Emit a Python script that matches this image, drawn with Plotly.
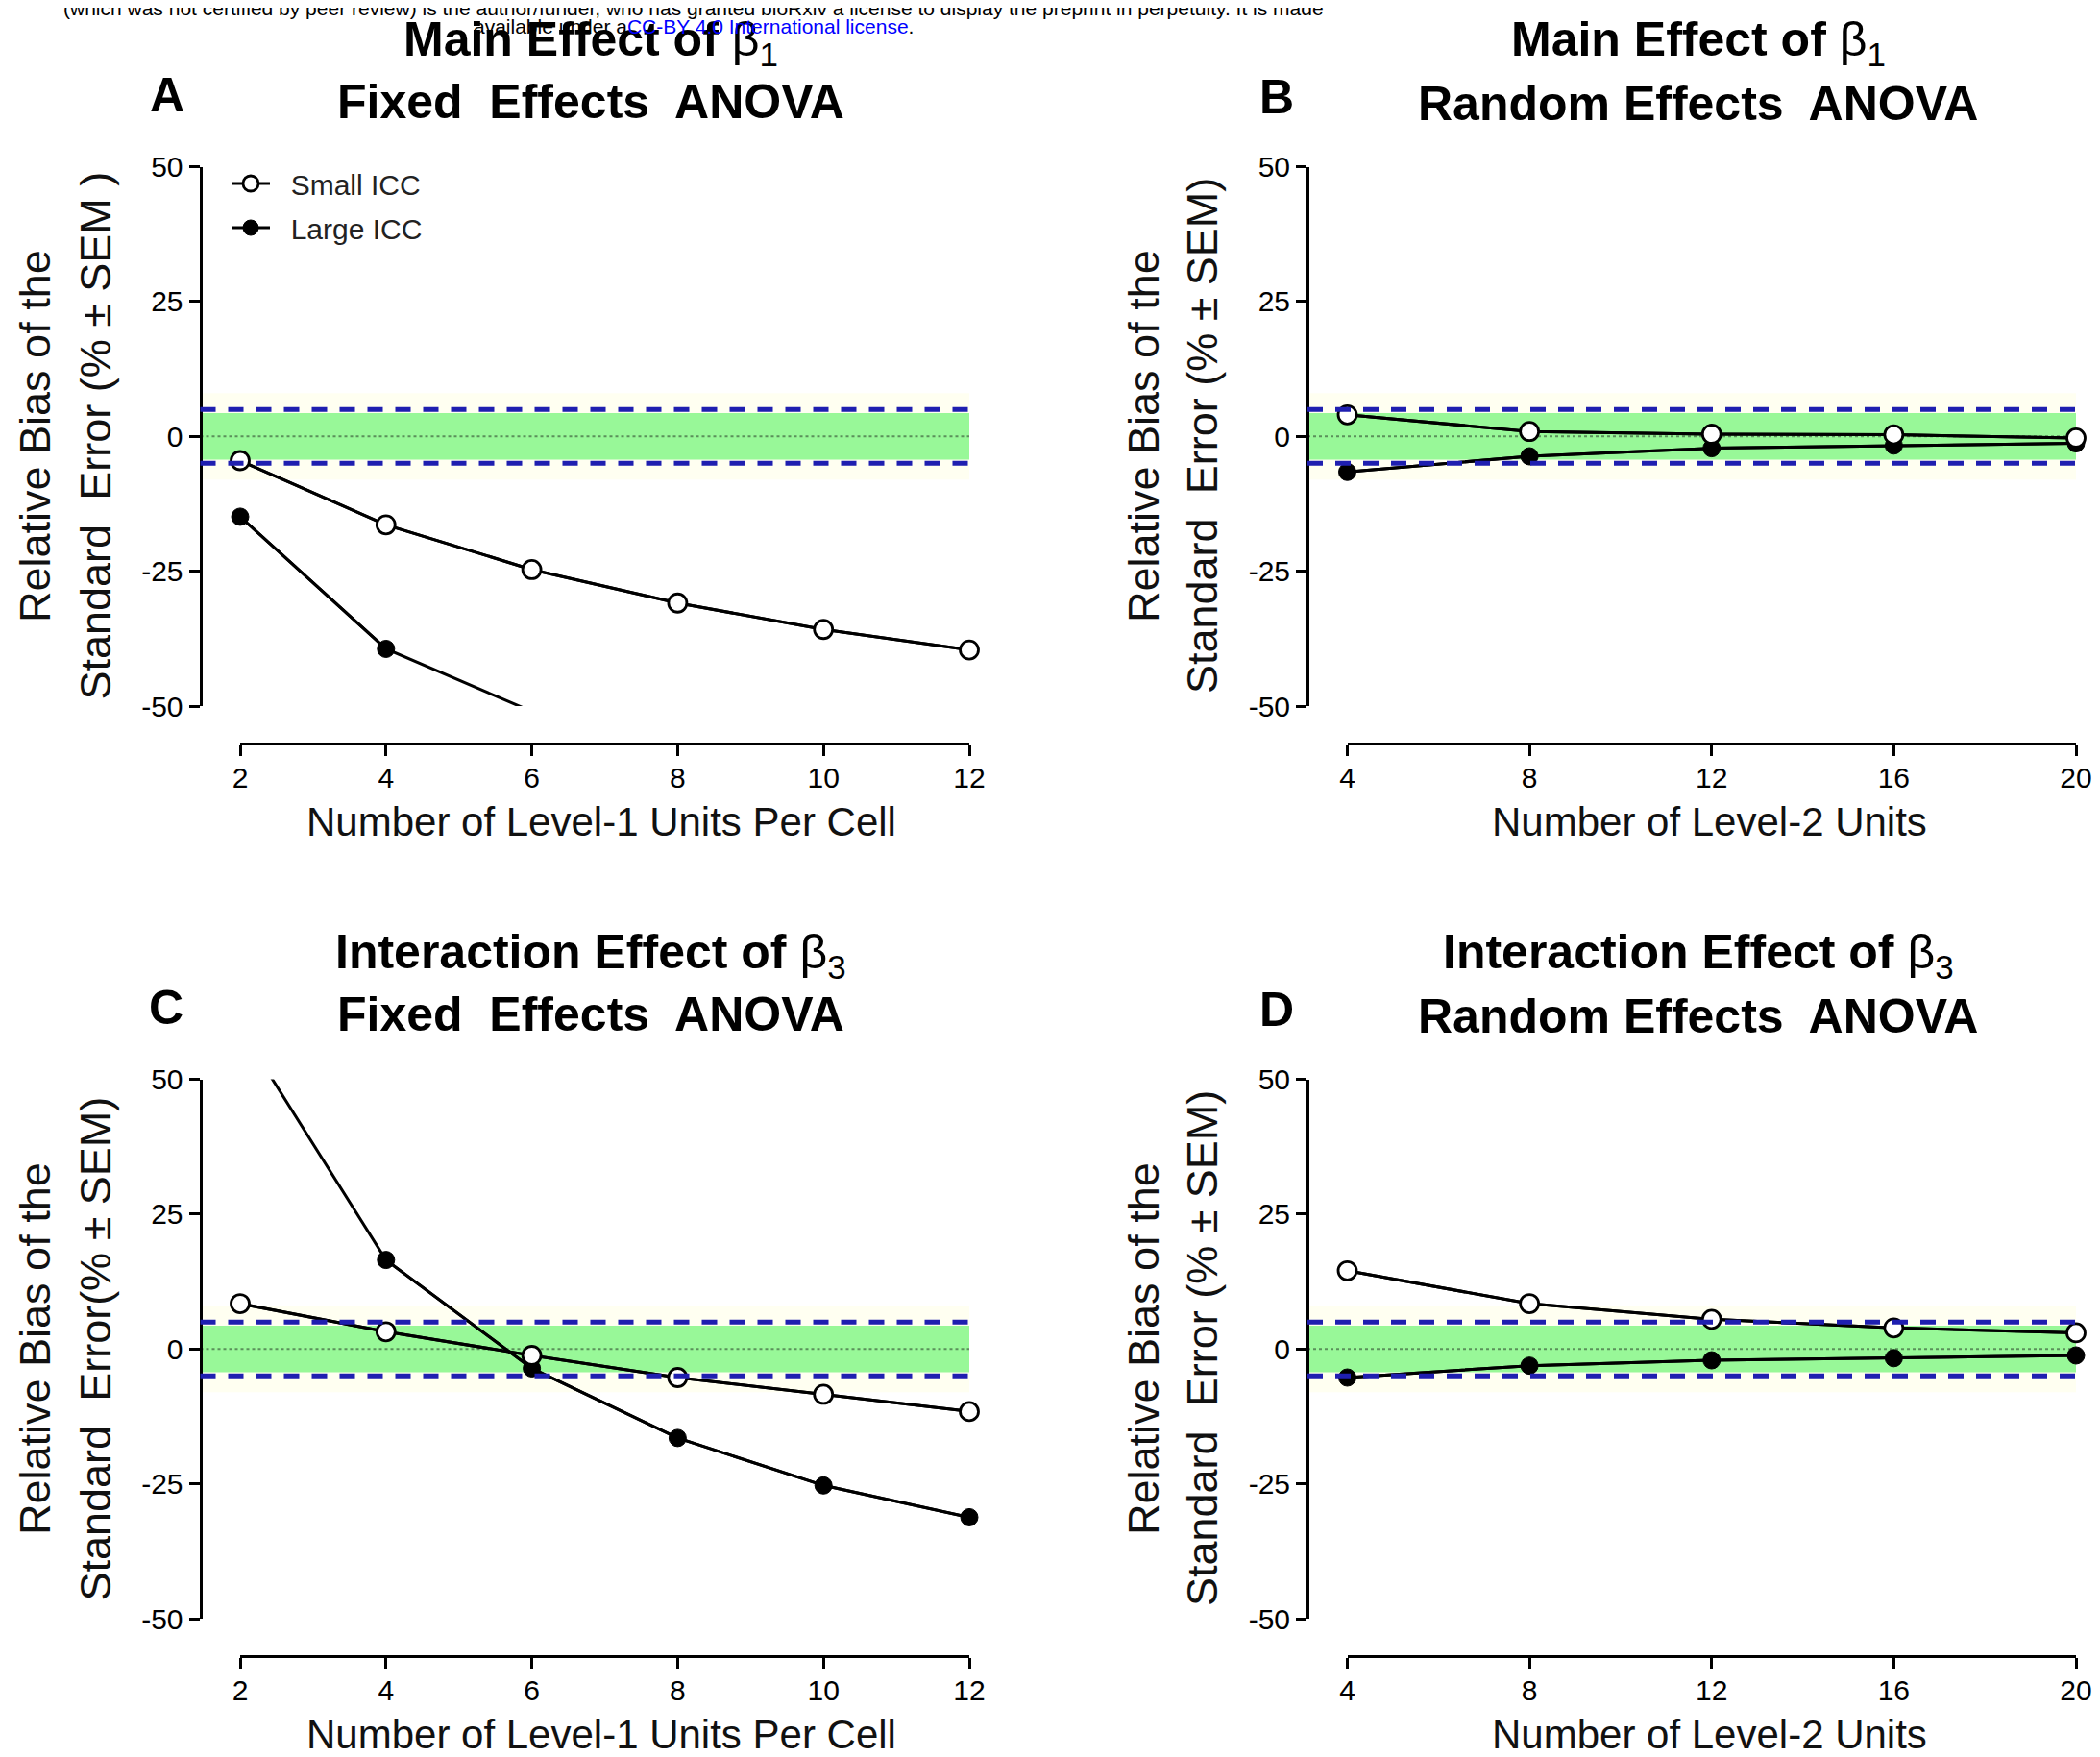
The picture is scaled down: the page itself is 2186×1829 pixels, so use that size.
import plotly.graph_objects as go

W, H = 2186, 1829
OFF = 8  # the page body adds an 8 px margin; positions below are given in window pixels

# ---------------- data ----------------
x_level1 = [2, 4, 6, 8, 10, 12]
x_level2 = [4, 8, 12, 16, 20]
y_ticks = [-50, -25, 0, 25, 50]
y_ticklabels = ["-50", "-25", "0", "25", "50"]

a_small = [-4.5, -16.4, -24.7, -30.9, -35.8, -39.6]
a_large_x = [2, 4, 6]
a_large = [-14.9, -39.4, -51.0]

b_small = [4.0, 0.9, 0.4, 0.3, -0.3]
b_large = [-6.6, -3.7, -2.2, -1.7, -1.3]

c_small = [8.4, 3.2, -1.2, -5.3, -8.4, -11.6]
c_large = [59.5, 16.5, -3.6, -16.5, -25.3, -31.2]

d_small = [14.5, 8.4, 5.5, 3.9, 3.0]
d_large = [-5.3, -3.1, -2.1, -1.7, -1.2]

band_inner = [-4.3, 4.3]
band_outer = [-8, 8]
ref_lines = [-5, 5]
y_range = [-50, 50]

FONT = "Liberation Sans, Arial, sans-serif"


def px(p):
    return (p - OFF) / W


def py(p):
    return 1 - (p - OFF) / H


# geometry of each panel, in window pixels
panels = [
    dict(n=1, xs=x_level1, small=(x_level1, a_small), large=(a_large_x, a_large),
         xl=(250, 1009), yl=(173.5, 735), yax=208.5, xax=774, xr=[2, 12],
         label="A", lab_xy=(174, 99),
         t1="<b>Main Effect of </b>β<sub>1</sub>", t2="<b>Fixed\u00a0 Effects\u00a0 ANOVA</b>",
         tx=615, t1y=44, t2y=106,
         xtitle="Number of Level-1 Units Per Cell", xt=(626, 855),
         yt1="Relative Bias of the", yt2="Standard\u00a0 Error (% ± SEM )",
         ytx=(36, 98.5), yty=454),
    dict(n=2, xs=x_level2, small=(x_level2, b_small), large=(x_level2, b_large),
         xl=(1402.5, 2161), yl=(173.5, 735), yax=1361, xax=774, xr=[4, 20],
         label="B", lab_xy=(1329, 101),
         t1="<b>Main Effect of </b>β<sub>1</sub>", t2="<b>Random Effects\u00a0 ANOVA</b>",
         tx=1768, t1y=44, t2y=108,
         xtitle="Number of Level-2 Units", xt=(1779, 855),
         yt1="Relative Bias of the", yt2="Standard\u00a0 Error (% ± SEM)",
         ytx=(1190, 1251), yty=454),
    dict(n=3, xs=x_level1, small=(x_level1, c_small), large=(x_level1, c_large),
         xl=(250, 1009), yl=(1123.5, 1685), yax=208.5, xax=1724, xr=[2, 12],
         label="C", lab_xy=(173, 1049),
         t1="<b>Interaction Effect of </b>β<sub>3</sub>", t2="<b>Fixed\u00a0 Effects\u00a0 ANOVA</b>",
         tx=615, t1y=994, t2y=1056,
         xtitle="Number of Level-1 Units Per Cell", xt=(626, 1805),
         yt1="Relative Bias of the", yt2="Standard\u00a0 Error(% ± SEM)",
         ytx=(36, 98.5), yty=1404),
    dict(n=4, xs=x_level2, small=(x_level2, d_small), large=(x_level2, d_large),
         xl=(1402.5, 2161), yl=(1123.5, 1685), yax=1361, xax=1724, xr=[4, 20],
         label="D", lab_xy=(1329, 1051),
         t1="<b>Interaction Effect of </b>β<sub>3</sub>", t2="<b>Random Effects\u00a0 ANOVA</b>",
         tx=1768, t1y=994, t2y=1058,
         xtitle="Number of Level-2 Units", xt=(1779, 1805),
         yt1="Relative Bias of the", yt2="Standard\u00a0 Error (% ± SEM)",
         ytx=(1190, 1251), yty=1404),
]

fig = go.Figure()
layout = dict(
    template="none",
    width=W, height=H, autosize=False,
    margin=dict(l=0, r=0, t=0, b=0, pad=0, autoexpand=False),
    paper_bgcolor="white", plot_bgcolor="rgba(0,0,0,0)",
    font=dict(family=FONT, color="black"),
    showlegend=True,
)
shapes = []
annotations = []

LINE = dict(color="black", width=3)
OPEN = dict(symbol="circle", size=19, color="white", line=dict(color="black", width=2.8))
FILLED = dict(symbol="circle", size=18, color="black", line=dict(color="black", width=1))


def in_range(xs, ys):
    pts = [(x, y) for x, y in zip(xs, ys) if y_range[0] <= y <= y_range[1]]
    return [q[0] for q in pts], [q[1] for q in pts]


def text(t, x, y, size, color="black", angle=0):
    return dict(text=t, x=px(x), y=py(y), xref="paper", yref="paper", showarrow=False,
                xanchor="center", yanchor="middle", textangle=angle,
                font=dict(size=size, family=FONT, color=color))


for p in panels:
    n = p["n"]
    xa = "x" if n == 1 else f"x{n}"
    ya = "y" if n == 1 else f"y{n}"
    xname = "xaxis" if n == 1 else f"xaxis{n}"
    yname = "yaxis" if n == 1 else f"yaxis{n}"

    layout[xname] = dict(
        domain=[px(p["xl"][0]), px(p["xl"][1])], range=p["xr"],
        anchor="free", position=py(p["xax"]), automargin=False,
        tickvals=p["xs"], ticktext=[str(v) for v in p["xs"]],
        ticks="outside", ticklen=11, tickwidth=2.8, tickcolor="black",
        ticklabelstandoff=-3,
        showline=True, linewidth=3, linecolor="black",
        showgrid=False, zeroline=False,
        tickfont=dict(size=30, color="black", family=FONT),
    )
    layout[yname] = dict(
        domain=[py(p["yl"][1]), py(p["yl"][0])], range=y_range,
        anchor="free", position=px(p["yax"]), automargin=False,
        tickvals=y_ticks, ticktext=y_ticklabels,
        ticks="outside", ticklen=11, tickwidth=2.8, tickcolor="black",
        showline=True, linewidth=3, linecolor="black",
        showgrid=False, zeroline=False,
        tickfont=dict(size=30, color="black", family=FONT),
    )

    # reference bands
    bx0, bx1 = px(p["yax"]), px(p["xl"][1])
    shapes.append(dict(type="rect", xref="paper", yref=ya, x0=bx0, x1=bx1,
                       y0=band_outer[0], y1=band_outer[1], fillcolor="rgba(255,255,210,0.3)",
                       line=dict(width=0), layer="below"))
    shapes.append(dict(type="rect", xref="paper", yref=ya, x0=bx0, x1=bx1,
                       y0=band_inner[0], y1=band_inner[1], fillcolor="#98F898",
                       line=dict(width=0), layer="below"))
    shapes.append(dict(type="line", xref="paper", yref=ya, x0=bx0, x1=bx1, y0=0, y1=0,
                       line=dict(color="rgba(70,110,70,0.75)", width=2, dash="dot"), layer="below"))
    for rv in ref_lines:
        shapes.append(dict(type="line", xref="paper", yref=ya, x0=bx0, x1=bx1, y0=rv, y1=rv,
                           line=dict(color="#1F1FB0", width=5, dash="16px,13px"), layer="above"))

    show = (n == 1)
    lx, ly = p["large"]
    sx, sy = p["small"]
    # full lines (clipped to the plotting region)
    fig.add_trace(go.Scatter(x=lx, y=ly, xaxis=xa, yaxis=ya, mode="lines", line=LINE,
                             showlegend=False, hoverinfo="skip"))
    fig.add_trace(go.Scatter(x=sx, y=sy, xaxis=xa, yaxis=ya, mode="lines", line=LINE,
                             showlegend=False, hoverinfo="skip"))
    # visible points
    lxi, lyi = in_range(lx, ly)
    sxi, syi = in_range(sx, sy)
    fig.add_trace(go.Scatter(x=lxi, y=lyi, xaxis=xa, yaxis=ya, mode="lines+markers",
                             line=LINE, marker=FILLED, cliponaxis=False,
                             name="\u00a0\u00a0Large ICC", legendgroup="large", legendrank=2,
                             showlegend=show))
    fig.add_trace(go.Scatter(x=sxi, y=syi, xaxis=xa, yaxis=ya, mode="lines+markers",
                             line=LINE, marker=OPEN, cliponaxis=False,
                             name="\u00a0\u00a0Small ICC", legendgroup="small", legendrank=1,
                             showlegend=show))

    # texts
    annotations.append(text(f"<b>{p['label']}</b>", p["lab_xy"][0], p["lab_xy"][1], 50))
    annotations.append(text(p["t1"], p["tx"], p["t1y"], 50))
    annotations.append(text(p["t2"], p["tx"], p["t2y"], 50))
    annotations.append(text(p["xtitle"], p["xt"][0], p["xt"][1], 42, "#111111"))
    annotations.append(text(p["yt1"], p["ytx"][0], p["yty"], 45, "#111111", -90))
    annotations.append(text(p["yt2"], p["ytx"][1], p["yty"], 45, "#111111", -90))

# bioRxiv header
annotations.append(text(
    "(which was not certified by peer review) is the author/funder, who has granted bioRxiv a license to display the preprint in perpetuity. It is made",
    722, 8, 21))
annotations.append(text(
    "available under a<span style='color:#0000FF'>CC-BY 4.0 International license</span>.",
    722, 28, 21))

layout["shapes"] = shapes
layout["annotations"] = annotations
layout["legend"] = dict(x=px(236), y=py(165), xanchor="left", yanchor="top",
                        bgcolor="rgba(0,0,0,0)", borderwidth=0,
                        traceorder="grouped", tracegroupgap=4,
                        font=dict(size=30, family=FONT, color="#222222"),
                        itemwidth=40)
fig.update_layout(**layout)

fig.write_html("out.html")
